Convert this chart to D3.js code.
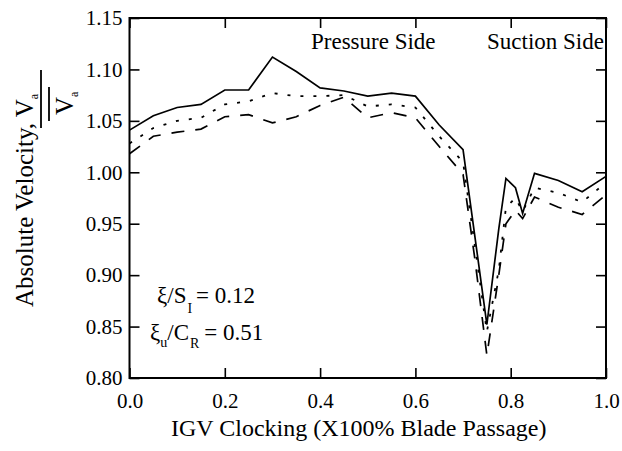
<!DOCTYPE html>
<html>
<head>
<meta charset="utf-8">
<script src="https://cdn.jsdelivr.net/npm/d3@7"></script>
<style>
  body { margin: 0; background: #fff; }
  svg text { font-family: "Liberation Serif", "Times New Roman", serif; fill: #000; }
</style>
</head>
<body>
<svg id="chart" width="622" height="451"></svg>
<script>
// IGV clocking positions (fraction of blade passage)
const clocking = [0, 0.05, 0.1, 0.15, 0.2, 0.25, 0.3, 0.35, 0.4, 0.45, 0.5, 0.55, 0.6, 0.65, 0.7,
  0.725, 0.75, 0.775, 0.79, 0.81, 0.825, 0.85, 0.9, 0.95, 1.0];

// three traces
const solidVals = [1.041, 1.055, 1.063, 1.066, 1.080, 1.080, 1.112, 1.098, 1.082, 1.079, 1.074, 1.077, 1.074, 1.046, 1.022,
  0.937, 0.852, 0.945, 0.994, 0.985, 0.960, 0.999, 0.992, 0.981, 0.996];
const dottedVals = [1.028, 1.043, 1.050, 1.053, 1.066, 1.069, 1.077, 1.074, 1.074, 1.075, 1.064, 1.066, 1.063, 1.035, 1.010,
  0.928, 0.845, 0.905, 0.966, 0.975, 0.962, 0.985, 0.980, 0.971, 0.990];
const dashedVals = [1.018, 1.035, 1.039, 1.042, 1.054, 1.056, 1.048, 1.054, 1.065, 1.073, 1.053, 1.058, 1.053, 1.025, 0.998,
  0.915, 0.822, 0.900, 0.950, 0.963, 0.955, 0.976, 0.966, 0.959, 0.978];

const xTicks = [0, 0.2, 0.4, 0.6, 0.8, 1.0];
const yTicks = [0.80, 0.85, 0.90, 0.95, 1.00, 1.05, 1.10, 1.15];

const svg = d3.select("#chart");
const margin = {left: 129.5, right: 16, top: 18, bottom: 73};
const W = 622, H = 451;

const x = d3.scaleLinear().domain([0, 1]).range([margin.left, W - margin.right]);
const y = d3.scaleLinear().domain([0.80, 1.15]).range([H - margin.bottom, margin.top]);

const font = '"Liberation Serif", "Times New Roman", serif';

// axes, ticks pointing inward
const bottom = svg.append("g")
    .attr("transform", `translate(0,${y(0.80)})`)
    .call(d3.axisBottom(x).tickValues(xTicks).tickSize(-10).tickSizeOuter(0).tickPadding(15)
        .tickFormat(d3.format(".1f")));
const left = svg.append("g")
    .attr("transform", `translate(${x(0)},0)`)
    .call(d3.axisLeft(y).tickValues(yTicks).tickSize(-10).tickSizeOuter(0).tickPadding(7)
        .tickFormat(d3.format(".2f")));
svg.append("g")
    .attr("transform", `translate(0,${y(1.15)})`)
    .call(d3.axisTop(x).tickValues(xTicks).tickSize(-10).tickSizeOuter(0).tickFormat(""));
svg.append("g")
    .attr("transform", `translate(${x(1)},0)`)
    .call(d3.axisRight(y).tickValues(yTicks).tickSize(-10).tickSizeOuter(0).tickFormat(""));

svg.selectAll(".domain").remove();
svg.selectAll(".tick line").attr("stroke", "#000").attr("stroke-width", 1.6);
svg.selectAll(".tick text").attr("font-family", font).attr("font-size", 21).attr("fill", "#000");

// frame
svg.append("rect")
    .attr("x", x(0)).attr("y", y(1.15))
    .attr("width", x(1) - x(0)).attr("height", y(0.80) - y(1.15))
    .attr("fill", "none").attr("stroke", "#000").attr("stroke-width", 2);

const line = d3.line().x((d, i) => x(clocking[i])).y(d => y(d));

svg.append("path").datum(solidVals)
    .attr("d", line).attr("fill", "none").attr("stroke", "#000").attr("stroke-width", 1.7);
svg.append("path").datum(dottedVals)
    .attr("d", line).attr("fill", "none").attr("stroke", "#000").attr("stroke-width", 1.8)
    .attr("stroke-dasharray", "3,10");
svg.append("path").datum(dashedVals)
    .attr("d", line).attr("fill", "none").attr("stroke", "#000").attr("stroke-width", 1.7)
    .attr("stroke-dasharray", "13,11");

// annotations
svg.append("text").attr("x", 311).attr("y", 49).attr("font-size", 23).text("Pressure Side");
svg.append("text").attr("x", 487).attr("y", 49).attr("font-size", 23).text("Suction Side");

const t1 = svg.append("text").attr("x", 157).attr("y", 303).attr("font-size", 23);
t1.append("tspan").text("ξ/S");
t1.append("tspan").attr("font-size", 14).attr("dy", 10).attr("dx", 1).text("I");
t1.append("tspan").attr("dy", -10).attr("dx", 4).text("= 0.12");

const t2 = svg.append("text").attr("x", 150).attr("y", 340).attr("font-size", 23);
t2.append("tspan").text("ξ");
t2.append("tspan").attr("font-size", 14).attr("dy", 7).text("u");
t2.append("tspan").attr("dy", -7).text("/C");
t2.append("tspan").attr("font-size", 14).attr("dy", 8).attr("dx", 1).text("R");
t2.append("tspan").attr("dy", -8).attr("dx", 5).text("= 0.51");

// x axis title
svg.append("text")
    .attr("x", (x(0) + x(1)) / 2 - 9).attr("y", 436)
    .attr("text-anchor", "middle").attr("font-size", 24)
    .text("IGV Clocking (X100% Blade Passage)");

// y axis title, rotated, with V_a over V̄_a
const yt = svg.append("g").attr("transform", "translate(33,307) rotate(-90)");
const yl = yt.append("text").attr("x", 0).attr("y", 0).attr("font-size", 25);
yl.append("tspan").text("Absolute Velocity, V");
yl.append("tspan").attr("font-size", 12).attr("dy", 5).text("a");
yt.append("line").attr("x1", 179).attr("x2", 237).attr("y1", 8).attr("y2", 8)
    .attr("stroke", "#000").attr("stroke-width", 1.8);
yt.append("line").attr("x1", 186).attr("x2", 220).attr("y1", 16).attr("y2", 16)
    .attr("stroke", "#000").attr("stroke-width", 1.8);
const yd = yt.append("text").attr("x", 192).attr("y", 40).attr("font-size", 25);
yd.append("tspan").text("V");
yd.append("tspan").attr("font-size", 12).attr("dy", 5).text("a");
</script>
</body>
</html>
